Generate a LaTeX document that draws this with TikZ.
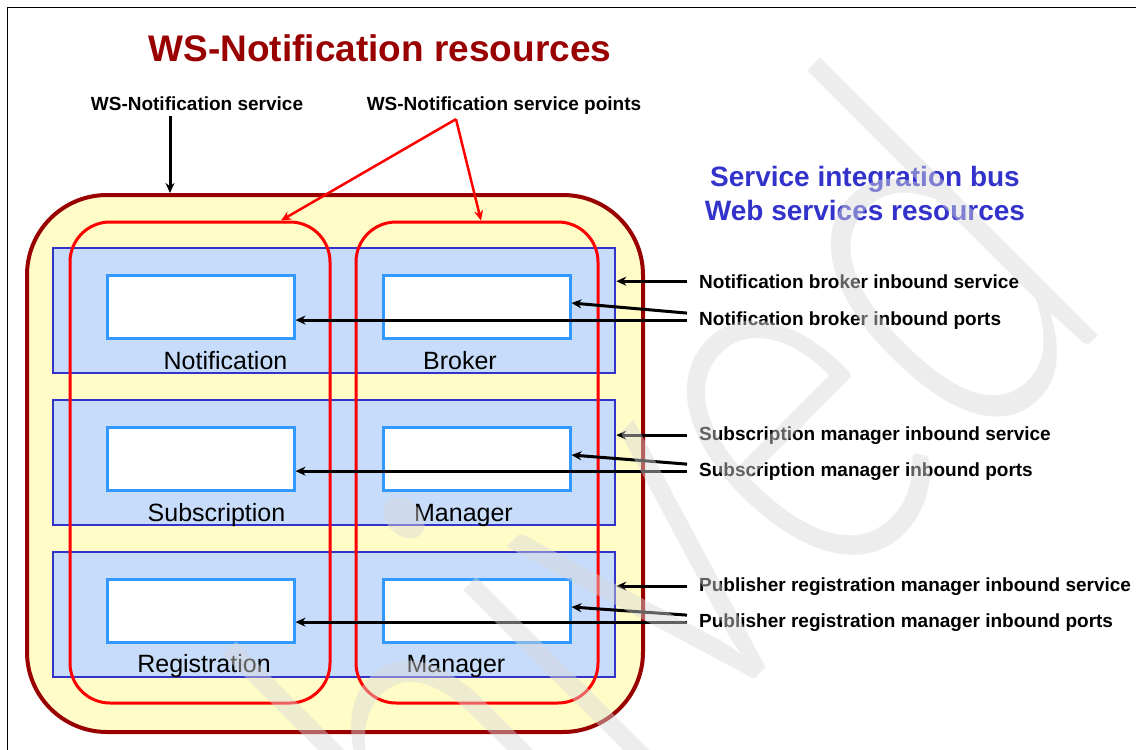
\documentclass[tikz,border=0pt]{standalone}
\usepackage{fontspec}
\setmainfont{Liberation Sans}
\newfontfamily\stampfont{Lato-Light.ttf}[FakeStretch=0.72]
\usetikzlibrary{arrows.meta}

\definecolor{wsred}{HTML}{990000}
\definecolor{busblue}{HTML}{3333CC}
\definecolor{bandfill}{HTML}{C6DCFA}
\definecolor{portblue}{HTML}{3399FF}
\definecolor{paleyellow}{HTML}{FFFCC8}
\definecolor{stampgray}{HTML}{D9D9D9}

\tikzset{
  outerbox/.style={draw=wsred, line width=4pt, fill=paleyellow, rounded corners=80pt, inner sep=0pt},
  band/.style={draw=busblue, line width=2.5pt, fill=bandfill, minimum width=562pt, minimum height=125pt, inner sep=0pt},
  port/.style={draw=portblue, line width=3pt, fill=white, minimum width=187pt, minimum height=63pt, inner sep=0pt},
  svcpoint/.style={draw=red, line width=3pt, rounded corners=40pt, minimum height=481pt, inner sep=0pt},
  boxlabel/.style={anchor=base, inner sep=0pt, font=\fontsize{25}{30}\selectfont},
  toplabel/.style={anchor=base, inner sep=0pt, font=\bfseries\fontsize{19}{23}\selectfont},
  callout/.style={anchor=base west, inner sep=0pt, font=\bfseries\fontsize{19}{23}\selectfont},
  bustitle/.style={anchor=base, inner sep=0pt, text=busblue, font=\bfseries\fontsize{28}{34}\selectfont},
  arr/.style={-{Stealth[length=10pt,width=9pt]}, line width=3pt},
  redarr/.style={arr, draw=red, line width=2.5pt},
}

\begin{document}
\begin{tikzpicture}[x=1pt, y=-1pt]
% Canvas
\fill[white] (0,0) rectangle (1136,750);
\useasboundingbox (0,0) rectangle (1136,750);
\draw[line width=1pt] (7,750) -- (7,7) -- (1136,7);

% Nodes
\node[anchor=base, inner sep=0pt, text=wsred, font=\bfseries\fontsize{37}{44}\selectfont] (title) at (380,61) {WS-Notification resources};
\node[toplabel] (wsnsvc) at (197,110) {WS-Notification service};
\node[toplabel] (wsnpts) at (504,110) {WS-Notification service points};
\node[bustitle] (sibusA) at (865,186) {Service integration bus};
\node[bustitle] (sibusB) at (865,220) {Web services resources};

\node[outerbox, minimum width=616pt, minimum height=537pt] (outer) at (335,463.5) {};

\node[band] (nbBand) at (334,310.5) {};
\node[band] (smBand) at (334,462.5) {};
\node[band] (prBand) at (334,614.5) {};

\node[port] (nbL) at (200.5,306.5) {};
\node[port] (nbR) at (476.5,306.5) {};
\node[port] (smL) at (200.5,458.5) {};
\node[port] (smR) at (476.5,458.5) {};
\node[port] (prL) at (200.5,610.5) {};
\node[port] (prR) at (476.5,610.5) {};

\node[boxlabel] (nbLtxt) at (225.5,369) {Notification};
\node[boxlabel] (nbRtxt) at (460,369) {Broker};
\node[boxlabel] (smLtxt) at (216.5,521) {Subscription};
\node[boxlabel] (smRtxt) at (463.5,521) {Manager};
\node[boxlabel] (prLtxt) at (204,672) {Registration};
\node[boxlabel] (prRtxt) at (456,672) {Manager};

\node[svcpoint, minimum width=260pt] (svcptL) at (200,462.5) {};
\node[svcpoint, minimum width=242pt] (svcptR) at (477,462.5) {};

\node[callout] (nbsvc) at (699,288) {Notification broker inbound service};
\node[callout] (nbports) at (699,325) {Notification broker inbound ports};
\node[callout] (smsvc) at (699,440) {Subscription manager inbound service};
\node[callout] (smports) at (699,476) {Subscription manager inbound ports};
\node[callout] (prsvc) at (699,591) {Publisher registration manager inbound service};
\node[callout] (prports) at (699,627) {Publisher registration manager inbound ports};

% Edges
\draw[arr] ([xshift=-27pt,yshift=-6pt]wsnsvc.south) -- ([xshift=-27pt]wsnsvc.south |- outer.north);
\draw[redarr] ([xshift=-48pt,yshift=-5pt]wsnpts.south) -- ([xshift=81pt]svcptL.north);
\draw[redarr] ([xshift=-48pt,yshift=-5pt]wsnpts.south) -- ([xshift=4pt]svcptR.north);

\draw[arr] ([xshift=-12pt]nbsvc.west) -- (nbsvc.west -| nbBand.east);
\draw[arr] ([xshift=-12pt,yshift=7pt]nbports.west) -- ([yshift=3.5pt]nbR.east);
\draw[arr] ([xshift=-12pt]nbports.west) -- (nbports.west -| nbL.east);

\draw[arr] ([xshift=-12pt]smsvc.west) -- (smsvc.west -| smBand.east);
\draw[arr] ([xshift=-12pt,yshift=7pt]smports.west) -- ([yshift=3.5pt]smR.east);
\draw[arr] ([xshift=-12pt]smports.west) -- (smports.west -| smL.east);

\draw[arr] ([xshift=-12pt]prsvc.west) -- (prsvc.west -| prBand.east);
\draw[arr] ([xshift=-12pt,yshift=7pt]prports.west) -- ([yshift=3.5pt]prR.east);
\draw[arr] ([xshift=-12pt]prports.west) -- (prports.west -| prL.east);

% Watermark
\begin{scope}
\clip (0,0) rectangle (1136,750);
\node[anchor=base east, rotate=45, inner sep=0pt, text=stampgray, opacity=0.45, font=\stampfont\fontsize{540}{550}\selectfont] (stamp) at (1120,314) {Archived};
\end{scope}
\end{tikzpicture}
\end{document}
